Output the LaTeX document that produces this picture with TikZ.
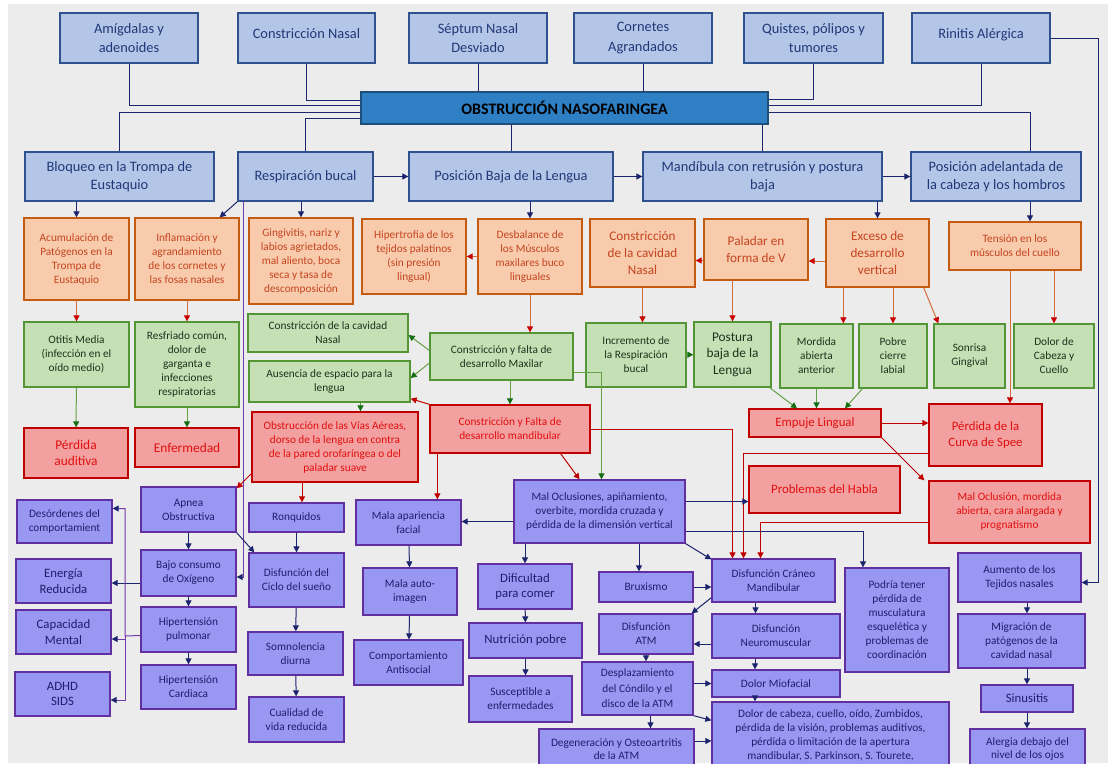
\documentclass[tikz,border=0pt]{standalone}
\usepackage{fontspec}
\setmainfont{Carlito}
\usepackage{tikz}
\usetikzlibrary{arrows.meta,positioning,calc}
\definecolor{fondo}{RGB}{236,236,236}
\definecolor{azulf}{RGB}{180,198,231}
\definecolor{azulb}{RGB}{47,82,143}
\definecolor{azult}{RGB}{31,56,120}
\definecolor{mainf}{RGB}{46,127,196}
\definecolor{mainb}{RGB}{31,78,121}
\definecolor{naranjaf}{RGB}{248,203,173}
\definecolor{naranjab}{RGB}{197,90,17}
\definecolor{naranjat}{RGB}{196,68,30}
\definecolor{verdef}{RGB}{197,224,180}
\definecolor{verdeb}{RGB}{84,150,53}
\definecolor{verdet}{RGB}{30,50,30}
\definecolor{rojof}{RGB}{242,160,160}
\definecolor{rojob}{RGB}{192,0,0}
\definecolor{rojot}{RGB}{225,15,15}
\definecolor{moradof}{RGB}{152,152,242}
\definecolor{moradob}{RGB}{96,48,160}
\definecolor{moradot}{RGB}{30,30,110}
\definecolor{marino}{RGB}{28,36,110}
\definecolor{lineanar}{RGB}{214,110,60}
\definecolor{puntaroja}{RGB}{200,0,0}
\definecolor{lineaver}{RGB}{100,160,70}
\definecolor{puntaver}{RGB}{20,110,20}
\definecolor{lineamor}{RGB}{112,60,170}
\tikzset{%
  caja/.style={draw, rectangle, line width=1.3pt, align=center, inner sep=1pt},% every box
  sz/.style 2 args={minimum width=#1pt, minimum height=#2pt},% box size in px
  azul/.style={caja, fill=azulf, draw=azulb, text=azult, font=\fontsize{14.4}{19.5}\selectfont},
  azuldos/.style={azul, font=\fontsize{14.4}{18.5}\selectfont},
  principal/.style={caja, fill=mainf, draw=mainb, text=black, font=\fontsize{16}{19}\selectfont\bfseries},
  nar/.style={caja, fill=naranjaf, draw=naranjab, text=naranjat, font=\fontsize{11.3}{14}\selectfont},
  nargrande/.style={nar, font=\fontsize{13.2}{16.7}\selectfont},
  ver/.style={caja, fill=verdef, draw=verdeb, text=verdet, font=\fontsize{11.3}{14}\selectfont},
  vergrande/.style={ver, font=\fontsize{13.3}{16.5}\selectfont},
  roj/.style={caja, fill=rojof, draw=rojob, text=rojot, font=\fontsize{11.3}{14}\selectfont},
  rojgrande/.style={roj, font=\fontsize{12.8}{15.5}\selectfont},
  mor/.style={caja, fill=moradof, draw=moradob, text=moradot, font=\fontsize{11.3}{14}\selectfont},
  morgrande/.style={mor, font=\fontsize{12.8}{15.5}\selectfont},
  punta/.style={-{Triangle[length=6pt,width=6pt,#1]}},
  liso/.style={draw=marino, line width=1pt},% plain joins
  flecha/.style={liso, punta},
  flechanar/.style={draw=lineanar, line width=1pt, punta={color=puntaroja}},
  flecharoja/.style={draw=rojob, line width=1pt, punta},
  flechaver/.style={draw=lineaver, line width=1pt, punta={color=puntaver}},
  flechamor/.style={draw=lineamor, line width=1pt, punta={color=marino}}
}

\begin{document}
\begin{tikzpicture}[x=1pt, y=-1pt]
\useasboundingbox (0,0) rectangle (1108,763);
\clip (0,0) rectangle (1108,763);
\fill[white] (0,0) rectangle (1108,763);
\fill[fondo] (8,4) rectangle (1108,763);

% causas
\node[azul, sz={138}{50}] (amig) at (129,38) {Amígdalas y\\adenoides};
\node[azul, sz={137}{50}, text depth=9pt] (cnasal) at (306.5,38) {Constricción Nasal};
\node[azul, sz={138}{50}] (septum) at (478,38) {Séptum Nasal\\Desviado};
\node[azul, sz={138}{50}] (cornetes) at (643,38) {Cornetes\\Agrandados};
\node[azul, sz={139}{50}] (quistes) at (813.5,38) {Quistes, pólipos y\\tumores};
\node[azul, sz={138}{50}, text depth=9pt] (rinitis) at (981,38) {Rinitis Alérgica};

\node[principal, sz={407}{32}] (obst) at (564.5,108) {OBSTRUCCIÓN NASOFARINGEA};

\node[azuldos, sz={189}{49}] (bloqueo) at (119.5,176.5) {Bloqueo en la Trompa de\\Eustaquio};
\node[azuldos, sz={135}{49}] (resp) at (305.5,176.5) {Respiración bucal};
\node[azuldos, sz={204}{49}] (posic) at (511,176.5) {Posición Baja de la Lengua};
\node[azuldos, sz={239}{49}] (mandib) at (762.5,176.5) {Mandíbula con retrusión y postura\\baja};
\node[azuldos, sz={170}{49}] (posad) at (996,176.5) {Posición adelantada de\\la cabeza y los hombros};

% naranja
\node[nar, sz={105}{82}] (acum) at (76.5,259) {Acumulación de\\Patógenos en la\\Trompa de\\Eustaquio};
\node[nar, sz={104}{82}] (inflam) at (187,259) {Inflamación y\\agrandamiento\\de los cornetes y\\las fosas nasales};
\node[nar, sz={104}{86}] (gingiv) at (301,261) {Gingivitis, nariz y\\labios agrietados,\\mal aliento, boca\\seca y tasa de\\descomposición};
\node[nar, sz={104}{75}] (hipert) at (414,256.5) {Hipertrofia de los\\tejidos palatinos\\(sin presión\\lingual)};
\node[nar, sz={104}{75}] (desbal) at (530,256.5) {Desbalance de\\los Músculos\\maxilares buco\\linguales};
\node[nargrande, sz={105}{68}] (cnasaldos) at (642.5,253) {Constricción\\de la cavidad\\Nasal};
\node[nargrande, sz={104}{61}] (paladar) at (756,249.5) {Paladar en\\forma de V};
\node[nargrande, sz={103}{68}] (exceso) at (877.5,253) {Exceso de\\desarrollo\\vertical};
\node[nar, sz={132}{48}] (tension) at (1015,246) {Tensión en los\\músculos del cuello};

% verde
\node[ver, sz={105}{65}] (otitis) at (76.5,354.5) {Otitis Media\\(infección en el\\oído medio)};
\node[ver, sz={104}{85}] (resfr) at (187,364.5) {Resfriado común,\\dolor de\\garganta e\\infecciones\\respiratorias};
\node[ver, sz={160}{38}] (cnasaltres) at (328,333) {Constricción de la cavidad\\Nasal};
\node[ver, sz={161}{41}] (ausencia) at (329.5,381.5) {Ausencia de espacio para la\\lengua};
\node[ver, sz={143}{47}] (cmaxilar) at (501.5,356.5) {Constricción y falta de\\desarrollo Maxilar};
\node[ver, sz={100}{64}] (increm) at (636,355) {Incremento de\\la Respiración\\bucal};
\node[vergrande, sz={77}{65}] (postura) at (732.5,354.5) {Postura\\baja de la\\Lengua};
\node[ver, sz={73}{64}] (mordida) at (816.5,356) {Mordida\\abierta\\anterior};
\node[ver, sz={68}{64}] (pobre) at (893,356) {Pobre\\cierre\\labial};
\node[ver, sz={71}{64}] (sonrisa) at (969.5,356) {Sonrisa\\Gingival};
\node[ver, sz={80}{64}] (dolorcab) at (1054,356) {Dolor de\\Cabeza y\\Cuello};

% rojo
\node[rojgrande, sz={104}{50}, font=\fontsize{13.4}{16}\selectfont] (perdida) at (76,453) {Pérdida\\auditiva};
\node[rojgrande, sz={104}{39}, font=\fontsize{13.4}{16}\selectfont] (enferm) at (187,447.5) {Enfermedad};
\node[roj, sz={166}{70}] (obstr) at (335,447) {Obstrucción de las Vías Aéreas,\\dorso de la lengua en contra\\de la pared orofaríngea o del\\paladar suave};
\node[roj, sz={160}{48}] (cmand) at (510,429) {Constricción y Falta de\\desarrollo mandibular};
\node[rojgrande, sz={132}{28}] (empuje) at (815,423) {Empuje Lingual};
\node[rojgrande, sz={113}{62}] (perdcurva) at (985.5,435) {Pérdida de la\\Curva de Spee};
\node[rojgrande, sz={151}{47}] (habla) at (824.5,489.5) {Problemas del Habla};
\node[roj, sz={161}{62}] (maloc) at (1009.5,512) {Mal Oclusión, mordida\\abierta, cara alargada y\\prognatismo};

% morado
\node[mor, sz={95}{45}] (apnea) at (188.5,509.5) {Apnea\\Obstructiva};
\node[mor, sz={95}{43}] (desord) at (64.5,521.5) {Desórdenes del\\comportamient};
\node[mor, sz={95}{46}] (bajo) at (188.5,573) {Bajo consumo\\de Oxígeno};
\node[morgrande, sz={95}{44}] (energia) at (63.5,581) {Energía\\Reducida};
\node[mor, sz={95}{45}] (hipp) at (188.5,629.5) {Hipertensión\\pulmonar};
\node[morgrande, sz={95}{44}] (capac) at (63.5,632) {Capacidad\\Mental};
\node[mor, sz={95}{44}] (hipc) at (188.5,687) {Hipertensión\\Cardiaca};
\node[morgrande, sz={95}{44}] (adhd) at (62.5,694) {ADHD\\SIDS};
\node[mor, sz={95}{29}] (ronq) at (296.5,517.5) {Ronquidos};
\node[mor, sz={95}{54}] (disfcs) at (296.5,580) {Disfunción del\\Ciclo del sueño};
\node[mor, sz={95}{43}] (somn) at (295.5,653.5) {Somnolencia\\diurna};
\node[mor, sz={95}{45}] (cualid) at (296.5,719.5) {Cualidad de\\vida reducida};
\node[mor, sz={105}{45}] (malaap) at (408.5,522.5) {Mala apariencia\\facial};
\node[mor, sz={94}{47}] (autoim) at (410,591.5) {Mala auto-\\imagen};
\node[mor, sz={109}{45}] (antisoc) at (408.5,662.5) {Comportamiento\\Antisocial};
\node[mor, sz={171}{63}] (malocs) at (599.5,511.5) {Mal Oclusiones, apiñamiento,\\overbite, mordida cruzada y\\pérdida de la dimensión vertical};
\node[morgrande, sz={94}{45}] (dific) at (525,586.5) {Dificultad\\para comer};
\node[morgrande, sz={113}{35}] (nutric) at (525.5,640.5) {Nutrición pobre};
\node[mor, sz={103}{46}] (suscep) at (520.5,699) {Susceptible a\\enfermedades};
\node[mor, sz={94}{30}] (brux) at (646,587) {Bruxismo};
\node[mor, sz={94}{40}] (disfatm) at (646,634) {Disfunción\\ATM};
\node[mor, sz={111}{53}, font=\fontsize{11.3}{15.5}\selectfont] (despl) at (637.5,688.5) {Desplazamiento\\del Cóndilo y el\\disco de la ATM};
\node[mor, sz={155}{40}, font=\fontsize{11.3}{13}\selectfont] (degen) at (616.5,749) {Degeneración y Osteoartritis\\de la ATM};
\node[mor, sz={123}{43}] (dcm) at (773.5,580.5) {Disfunción Cráneo\\Mandibular};
\node[mor, sz={128}{44}] (neuro) at (776,636) {Disfunción\\Neuromuscular};
\node[mor, sz={128}{27}] (miof) at (776,683.5) {Dolor Miofacial};
\node[mor, sz={237}{67}] (dolorcabdos) at (830.5,735.5) {Dolor de cabeza, cuello, oído, Zumbidos,\\pérdida de la visión, problemas auditivos,\\pérdida o limitación de la apertura\\mandibular, S. Parkinson, S. Tourete,};
\node[mor, sz={104}{104}] (podria) at (897,620) {Podría tener\\pérdida de\\musculatura\\esquelética y\\problemas de\\coordinación};
\node[mor, sz={123}{49}] (aumento) at (1019.5,577.5) {Aumento de los\\Tejidos nasales};
\node[mor, sz={127}{54}] (migr) at (1021.5,641) {Migración de\\patógenos de la\\cavidad nasal};
\node[morgrande, sz={92}{27}] (sinus) at (1027,698.5) {Sinusitis};
\node[mor, sz={115}{40}, font=\fontsize{11.3}{13}\selectfont] (alergia) at (1027.5,749) {Alergia debajo del\\nivel de los ojos};

% uniones con la obstruccion
\draw[liso] (amig.south) |- ([yshift=3pt]obst.west);
\draw[liso] (cnasal.south) |- ([yshift=8pt]obst.west);
\draw[liso] (septum.south) -- (septum.south |- obst.north);
\draw[liso] (cornetes.south) -- (cornetes.south |- obst.north);
\draw[liso] (quistes.south) |- ([yshift=9pt]obst.east);
\draw[liso] (rinitis.south) |- ([yshift=3pt]obst.east);
\draw[liso] ([yshift=-4pt]obst.west) -| (bloqueo.north);
\draw[liso] ([yshift=-10pt]obst.west) -| (resp.north);
\draw[liso] (posic.north |- obst.south) -- (posic.north);
\draw[liso] (mandib.north |- obst.south) -- (mandib.north);
\draw[liso] ([yshift=-4pt]obst.east) -| ([xshift=34pt]posad.north);
\draw[flecha] (rinitis.east) -- ++(48,0) |- ([yshift=-5pt]aumento.east);

\draw[flecha] (resp) -- (posic);
\draw[flecha] (posic) -- (mandib);
\draw[flecha] (mandib) -- (posad);

% segunda fila
\draw[flecha] (acum.north |- bloqueo.south) -- (acum.north);
\draw[flecha] (resp.south west) -- ([xshift=-20pt]inflam.north east);
\draw[flecha] (gingiv.north |- resp.south) -- (gingiv.north);
\draw[flechamor] ([xshift=6pt]resp.south west) |- ([yshift=-4pt]bajo.east);
\draw[flecha] (desbal.north |- posic.south) -- (desbal.north);
\draw[flecha] (exceso.north |- mandib.south) -- (exceso.north);
\draw[flecha] ([xshift=15pt]tension.north |- posad.south) -- ([xshift=15pt]tension.north);

\draw[flechanar] (desbal) -- (hipert);
\draw[flechanar] ([yshift=-8pt]exceso.west) -- ([yshift=-8pt]exceso.west -| paladar.east);
\draw[flechanar] ([yshift=-11pt]paladar.west) -- ([yshift=-11pt]paladar.west -| cnasaldos.east);

% tercera fila
\draw[flechanar] (acum) -- (otitis);
\draw[flechanar] (inflam) -- (resfr);
\draw[flechanar] (desbal.south) -- (desbal.south |- cmaxilar.north);
\draw[flechanar] (cnasaldos.south) -- (cnasaldos.south |- increm.north);
\draw[flechanar] (postura.north |- paladar.south) -- (postura.north);
\draw[flechanar] ([xshift=18pt]exceso.south west) -- ([xshift=18pt]exceso.south west |- mordida.north);
\draw[flechanar] (pobre.north |- exceso.south) -- (pobre.north);
\draw[flechanar] ([xshift=-6pt]exceso.south east) -- ([xshift=5pt]sonrisa.north west);
\draw[flechanar] (dolorcab.north |- tension.south) -- (dolorcab.north);
\draw[flechanar] ([xshift=-5pt]tension.south) -- ([xshift=-5pt]tension.south |- perdcurva.north);

% cuarta fila
\draw[flechaver] ([yshift=6pt]cmaxilar.west) -- ([yshift=-2pt]cnasaltres.east);
\draw[flechaver] ([yshift=-6.5pt]cmaxilar.west) -- ([yshift=3.5pt]ausencia.east);
\draw[flechaver] (increm) -- (postura);
\draw[flechaver] (otitis) -- (perdida);
\draw[flechaver] (resfr) -- (enferm);
\draw[flechaver] ([xshift=31pt]ausencia.south) -- ([xshift=31pt]ausencia.south |- obstr.north);
\draw[flechaver] (cmand.north |- cmaxilar.south) -- (cmand.north);
\draw[flechaver] ([yshift=-16pt]cmaxilar.east) -| ([xshift=2pt]malocs.north);
\draw[flechaver] ([xshift=-2pt]postura.south east) -- ([xshift=-18pt]empuje.north);
\draw[flechaver] (mordida.south) -- (mordida.south |- empuje.north);
\draw[flechaver] ([xshift=4pt]pobre.south west) -- ([xshift=30pt]empuje.north);

% quinta fila
\draw[flecharoja] (cmand.north west) -- ([yshift=4pt]ausencia.south east);
\draw[flecharoja] (empuje.east) -- (empuje.east -| perdcurva.west);
\draw[flecharoja] (empuje.south east) -- ([xshift=-4pt]maloc.north west);
\draw[flecharoja] ([yshift=9pt]obstr.south west) -- ([yshift=-2pt]apnea.north east);
\draw[flecharoja] ([xshift=-33pt]obstr.south) -- ([xshift=-33pt]obstr.south |- ronq.north);
\draw[flecharoja] ([xshift=8pt]cmand.south west) -- ([xshift=8pt]cmand.south west |- malaap.north);
\draw[flecharoja] ([xshift=-30pt]cmand.south east) -- ([xshift=-20pt]malocs.north);
\draw[flecharoja] (cmand.east) -| ([xshift=-41pt]dcm.north);
\draw[flecharoja] ([yshift=-18pt]perdcurva.west) -| ([xshift=-30pt]dcm.north);
\draw[flecharoja] ([yshift=-10pt]maloc.west) -| ([xshift=-13pt]dcm.north);

% morado
\draw[flecha] ([yshift=10pt]malocs.east) -- ([yshift=10pt]malocs.east -| habla.west);
\draw[flecha] ([yshift=-10pt]malocs.west) -- ([yshift=-10pt]malocs.west -| malaap.east);
\draw[flecha] (dific.north |- malocs.south) -- (dific.north);
\draw[flecha] ([xshift=-7pt]brux.north |- malocs.south) -- ([xshift=-7pt]brux.north);
\draw[flecha] (malocs.south east) -- ([yshift=-1pt]dcm.north west);
\draw[flecha] ([yshift=-20pt]malocs.east) -| ([xshift=-34pt]podria.north);

\draw[flecha] (apnea) -- (bajo);
\draw[flecha] (bajo) -- (hipp);
\draw[flecha] (hipp) -- (hipc);
\draw[flecha] (apnea.south east) -- ([xshift=6pt]disfcs.north west);
\draw[flecha] ([yshift=-10pt]bajo.west) -- ([yshift=-10pt]bajo.west -| energia.east);
\coordinate (bus) at (125,636);
\draw[flechamor] ([yshift=-6pt]hipp.west) -- (bus) |- ([yshift=13pt]desord.east);
\draw[flechamor] (bus) |- ([yshift=-7pt]capac.east);
\draw[flechamor] (bus) |- ([yshift=-6pt]adhd.east);

\draw[flecha] (ronq) -- (disfcs);
\draw[flecha] (disfcs) -- (somn);
\draw[flecha] (somn) -- (cualid);
\draw[flecha] (malaap) -- (autoim);
\draw[flecha] (autoim) -- (antisoc);
\draw[flecha] (dific) -- (nutric);
\draw[flecha] (nutric.south) -- (nutric.south |- suscep.north);

\draw[flecha] (brux.east) -- (brux.east -| dcm.west);
\draw[flecha] ([yshift=5pt]dcm.south west) -- ([xshift=-2pt]disfatm.north east);
\draw[flecha] ([xshift=-18pt]dcm.south) -- ([xshift=-18pt]dcm.south |- neuro.north);
\draw[flecha] ([yshift=-8pt]neuro.west) -- ([yshift=-8pt]neuro.west -| disfatm.east);
\draw[flecha] ([xshift=-21pt]neuro.south) -- ([xshift=-21pt]neuro.south |- miof.north);
\draw[flecha] ([xshift=-21pt]miof.south) -- ([xshift=-21pt]miof.south |- dolorcabdos.north);
\draw[flecha] (disfatm.south) -- (disfatm.south |- despl.north);
\draw[flecha] (despl.east |- miof.west) -- (miof.west);
\draw[flecha] (despl.south east) -- ([yshift=-19pt]dolorcabdos.north west);
\draw[flecha] ([xshift=13pt]despl.south) -- ([xshift=13pt]despl.south |- degen.north);
\draw[flecha] ([yshift=8pt]degen.east) -- ([yshift=8pt]degen.east -| dolorcabdos.west);

\draw[flecha] (sinus.north |- aumento.south) -- (sinus.north |- migr.north);
\draw[flecha] (sinus.north |- migr.south) -- (sinus.north);
\draw[flecha] (sinus.south) -- (sinus.south |- alergia.north);

\end{tikzpicture}
\end{document}
